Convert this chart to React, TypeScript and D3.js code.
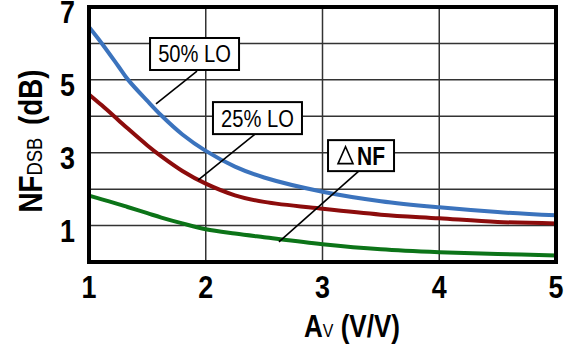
import React, { useEffect, useRef } from "react";
import * as d3 from "d3";

// gain Av (V/V)
const gain = [1.0, 1.11, 1.25, 1.33, 1.5, 1.62, 1.8, 2.0, 2.25, 2.5, 3.0, 3.5, 4.0, 4.5, 5.0];
// NF DSB (dB)
const lo50 = [6.45, 6.0, 5.38, 5.02, 4.42, 4.02, 3.5, 3.05, 2.62, 2.32, 1.93, 1.67, 1.5, 1.37, 1.28];
const lo25 = [4.6, 4.3, 3.9, 3.67, 3.2, 2.9, 2.5, 2.15, 1.83, 1.65, 1.46, 1.3, 1.2, 1.1, 1.06];
const deltaNF = [1.82, 1.72, 1.59, 1.51, 1.34, 1.22, 1.06, 0.9, 0.78, 0.68, 0.49, 0.35, 0.27, 0.22, 0.18];

const xTicks = [1, 2, 3, 4, 5];
const yLabels = [1, 3, 5, 7];
const yGrid = [1, 2, 3, 4, 5, 6];

const series = [
  { name: "50% LO", values: lo50, color: "#3b73bd" },
  { name: "25% LO", values: lo25, color: "#8c0c0c" },
  { name: "ΔNF", values: deltaNF, color: "#0c7418" },
];

// callouts: box centre and leader line in data units
const callouts = [
  { text: "50% LO", cx: 1.904, cy: 5.71, w: 89, h: 32, from: [1.925, 5.24], to: [1.574, 4.34] },
  { text: "25% LO", cx: 2.443, cy: 3.95, w: 89, h: 32, from: [2.422, 3.51], to: [1.934, 2.25] },
  { text: "NF", cx: 3.33, cy: 2.92, w: 66, h: 31, from: [3.313, 2.5], to: [2.627, 0.55] },
];

const FONT = "'Liberation Sans', Arial, sans-serif";
const NARROW = 0.84;

export default function App() {
  const ref = useRef<SVGSVGElement>(null);

  useEffect(() => {
    const svg = d3.select(ref.current);
    svg.selectAll("*").remove();

    const left = 89, right = 556, top = 7, bottom = 262;
    const x = d3.scaleLinear().domain([1, 5]).range([left, right]);
    const y = d3.scaleLinear().domain([0, 7]).range([bottom, top]);

    const g = svg.append("g");

    const label = (px: number, py: number, size: number, bold: boolean, anchor: string, rotate = 0) =>
      g.append("text")
        .attr("transform", `translate(${px},${py}) rotate(${rotate}) scale(${NARROW},1)`)
        .attr("text-anchor", anchor)
        .attr("font-family", FONT)
        .attr("font-weight", bold ? "bold" : "normal")
        .attr("font-size", size);

    // grid
    g.selectAll(".hg").data(yGrid).join("line")
      .attr("x1", left).attr("x2", right)
      .attr("y1", d => y(d)).attr("y2", d => y(d))
      .attr("stroke", "#333").attr("stroke-width", 1.5);
    g.selectAll(".vg").data(xTicks.slice(1, -1)).join("line")
      .attr("y1", top).attr("y2", bottom)
      .attr("x1", d => x(d)).attr("x2", d => x(d))
      .attr("stroke", "#333").attr("stroke-width", 1.5);

    // curves
    const line = d3.line<number>()
      .x((d, i) => x(gain[i]))
      .y(d => y(d))
      .curve(d3.curveCatmullRom.alpha(0.5));
    series.forEach(s => {
      g.append("path")
        .attr("d", line(s.values))
        .attr("fill", "none")
        .attr("stroke", s.color)
        .attr("stroke-width", 4);
    });

    // callouts
    callouts.forEach(c => {
      g.append("line")
        .attr("x1", x(c.from[0])).attr("y1", y(c.from[1]))
        .attr("x2", x(c.to[0])).attr("y2", y(c.to[1]))
        .attr("stroke", "#000").attr("stroke-width", 1.6);
      const bx = x(c.cx), by = y(c.cy);
      g.append("rect")
        .attr("x", bx - c.w / 2).attr("y", by - c.h / 2)
        .attr("width", c.w).attr("height", c.h)
        .attr("fill", "#fff").attr("stroke", "#000").attr("stroke-width", 2);
      if (c.text === "NF") {
        g.append("path")
          .attr("d", `M${bx - 23},${by + 8} L${bx - 15.5},${by - 9} L${bx - 8},${by + 8} Z`)
          .attr("fill", "none").attr("stroke", "#000").attr("stroke-width", 1.6);
        label(bx + 10, by + 9, 25, true, "middle").text("NF");
      } else {
        label(bx, by + 8.5, 24, false, "middle").text(c.text);
      }
    });

    // frame
    g.append("rect")
      .attr("x", left).attr("y", top)
      .attr("width", right - left).attr("height", bottom - top)
      .attr("fill", "none").attr("stroke", "#000").attr("stroke-width", 4);

    // tick labels
    yLabels.forEach(d => {
      label(75, y(d) + 16, 32, true, "end").text(d);
    });
    xTicks.forEach(d => {
      label(x(d), 298, 32, true, "middle").text(d);
    });

    // x title
    const xt = label(352, 337, 31, true, "middle");
    xt.append("tspan").text("A");
    xt.append("tspan").attr("font-size", 19).attr("font-weight", "normal").text("V");
    xt.append("tspan").text(" (V/V)");

    // y title
    const yt = label(42, 141, 33, true, "middle", -90);
    yt.append("tspan").text("NF");
    yt.append("tspan").attr("font-size", 22).attr("font-weight", "normal").text("DSB");
    yt.append("tspan").attr("dx", 6).text(" (dB)");
  }, []);

  return (
    <svg ref={ref} width={585} height={351}
      style={{ position: "absolute", left: 0, top: 0, background: "#fff" }} />
  );
}
